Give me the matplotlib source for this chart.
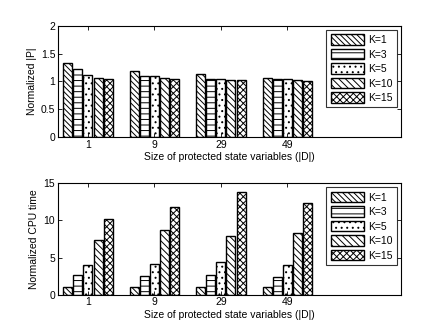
import matplotlib
matplotlib.use("Agg")
import matplotlib.pyplot as plt
import numpy as np

plt.rcParams['font.family'] = ['Liberation Sans', 'DejaVu Sans']
plt.rcParams['hatch.linewidth'] = 0.7

groups = ['1', '9', '29', '49']
series = ['K=1', 'K=3', 'K=5', 'K=10', 'K=15']
norm_p = [
    [1.33, 1.19, 1.14, 1.07],
    [1.22, 1.10, 1.05, 1.05],
    [1.12, 1.10, 1.05, 1.05],
    [1.07, 1.07, 1.03, 1.03],
    [1.05, 1.05, 1.03, 1.01],
]
cpu = [
    [1.0, 1.0, 1.0, 1.0],
    [2.7, 2.5, 2.7, 2.4],
    [4.0, 4.1, 4.4, 4.0],
    [7.3, 8.7, 7.9, 8.3],
    [10.2, 11.8, 13.8, 12.4],
]
hatches = ['\\' * 6, '---', '...', '\\' * 5, 'xxxxx']

fig = plt.figure(figsize=(4.43, 3.33), dpi=100)
ax1 = fig.add_axes([0.131, 0.589, 0.774, 0.333])
ax2 = fig.add_axes([0.131, 0.115, 0.774, 0.3345])

x = np.arange(1, len(groups) + 1)
w = 0.135
step = 0.152

def draw(ax, data, ylim, yticks, ylabel):
    for i, (vals, h, lab) in enumerate(zip(data, hatches, series)):
        off = (i - 2) * step
        ax.bar(x + off, vals, width=w, facecolor='white', edgecolor='black',
               hatch=h, linewidth=1.0, label=lab)
    ax.set_xlim(0.55, 5.71)
    ax.set_ylim(*ylim)
    ax.set_yticks(yticks)
    ax.set_yticklabels([('%g' % t) for t in yticks])
    ax.set_xticks(x)
    ax.set_xticklabels(groups)
    ax.tick_params(direction='in', top=True, right=True, labelsize=7.5,
                   length=3, width=0.6, pad=2)
    ax.set_ylabel(ylabel, fontsize=7.5, labelpad=3)
    ax.set_xlabel('Size of protected state variables (|D|)', fontsize=7.5, labelpad=2)
    for s in ax.spines.values():
        s.set_linewidth(0.8)
    leg = ax.legend(loc='upper right', fontsize=7.5, frameon=True, fancybox=False,
                    edgecolor='black', handlelength=3.2, handleheight=1.2,
                    borderaxespad=0.4, labelspacing=0.35, handletextpad=0.4,
                    borderpad=0.4)
    leg.get_frame().set_linewidth(0.8)

draw(ax1, norm_p, (0, 2), [0, 0.5, 1, 1.5, 2], 'Normalized |P|')
draw(ax2, cpu, (0, 15), [0, 5, 10, 15], 'Normalized CPU time')

fig.savefig('out.png', dpi=100)
